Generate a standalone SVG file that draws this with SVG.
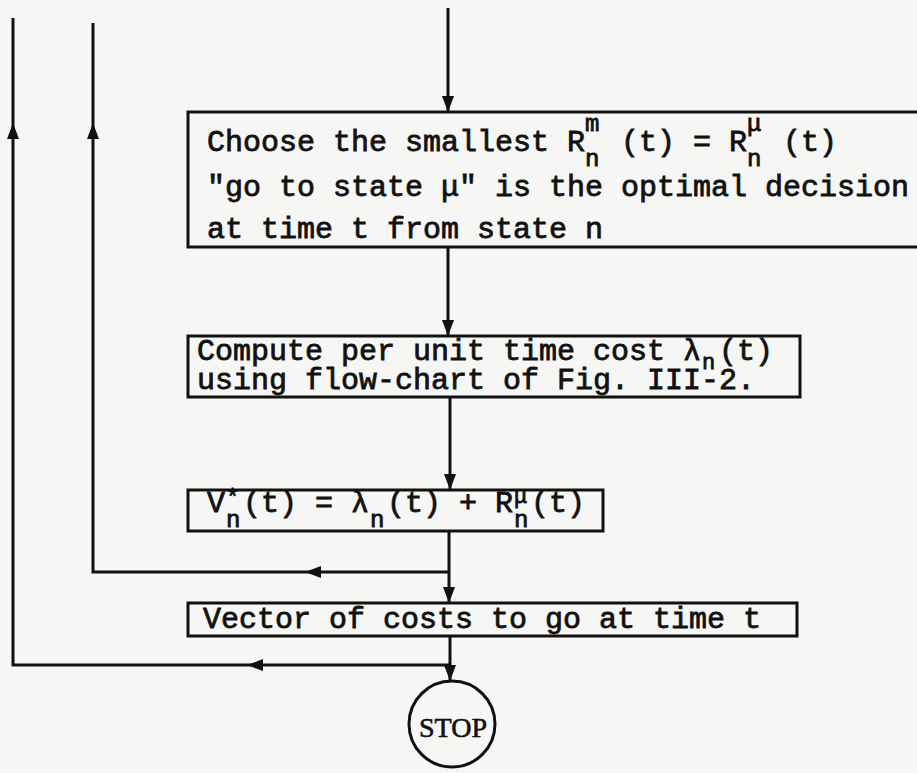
<svg xmlns="http://www.w3.org/2000/svg" width="917" height="773" viewBox="0 0 917 773">
<style>
.box{fill:none;stroke:#111;stroke-width:3}
.ln{fill:none;stroke:#111;stroke-width:3}
.t{font-family:"Liberation Mono","DejaVu Sans Mono",monospace;font-size:30px;fill:#111;stroke:#111;stroke-width:0.8}
.sm{font-size:24px}
.xs{font-size:22px}
.s{font-family:"Liberation Serif","DejaVu Serif",serif;font-size:28px;fill:#111;stroke:#111;stroke-width:0.6}
</style>
<defs>
<marker id="ah" viewBox="0 0 16 12" refX="15" refY="6" markerWidth="16" markerHeight="12" markerUnits="userSpaceOnUse" orient="auto">
<path d="M0,0 L16,6 L0,12 z" fill="#111"/>
</marker>
</defs>
<rect width="917" height="773" fill="#f6f6f4"/>
<g id="connectors">
<path class="ln" d="M448,8 V111" marker-end="url(#ah)"/>
<path class="ln" d="M448,247 V335" marker-end="url(#ah)"/>
<path class="ln" d="M450,397 V489" marker-end="url(#ah)"/>
<path class="ln" d="M449,531 V602" marker-end="url(#ah)"/>
<path class="ln" d="M449,572 H306" marker-end="url(#ah)"/>
<path class="ln" d="M306,572 H93 V124" marker-end="url(#ah)"/>
<path class="ln" d="M93,124 V23"/>
<path class="ln" d="M450,636 V680" marker-end="url(#ah)"/>
<path class="ln" d="M450,665 H248" marker-end="url(#ah)"/>
<path class="ln" d="M248,665 H13 V124" marker-end="url(#ah)"/>
<path class="ln" d="M13,124 V18"/>
</g>
<g id="node-choose">
<rect class="box" x="188" y="112" width="740" height="135"/>
<text class="t"><tspan x="207" y="151">Choose the smallest R</tspan><tspan class="sm" x="585" y="131">m</tspan><tspan class="sm" x="585" y="166">n</tspan><tspan x="621" y="151">(t) = R</tspan><tspan class="sm" x="747" y="131">μ</tspan><tspan class="sm" x="747" y="166">n</tspan><tspan x="783" y="151">(t)</tspan></text>
<text class="t" x="207" y="196">"go to state μ" is the optimal decision</text>
<text class="t" x="207" y="238">at time t from state n</text>
</g>
<g id="node-compute">
<rect class="box" x="188" y="336" width="612" height="61"/>
<text class="t"><tspan x="197" y="360">Compute per unit time cost λ</tspan><tspan class="xs" x="702" y="369">n</tspan><tspan x="719" y="360">(t)</tspan></text>
<text class="t" x="197" y="389">using flow-chart of Fig. III-2.</text>
</g>
<g id="node-v">
<rect class="box" x="188" y="490" width="415" height="41"/>
<text class="t"><tspan x="207" y="512">V</tspan><tspan class="xs" x="226" y="504">*</tspan><tspan class="sm" x="226" y="527">n</tspan><tspan x="243" y="512">(t) = λ</tspan><tspan class="sm" x="370" y="527">n</tspan><tspan x="387" y="512">(t) + R</tspan><tspan class="xs" x="514" y="503">μ</tspan><tspan class="sm" x="514" y="527">n</tspan><tspan x="531" y="512">(t)</tspan></text>
</g>
<g id="node-vector">
<rect class="box" x="188" y="603" width="609" height="33"/>
<text class="t" x="203" y="628">Vector of costs to go at time t</text>
</g>
<g id="node-stop">
<circle cx="452" cy="724" r="43" fill="none" stroke="#111" stroke-width="3"/>
<text class="s" x="453" y="737" text-anchor="middle">STOP</text>
</g>
</svg>
